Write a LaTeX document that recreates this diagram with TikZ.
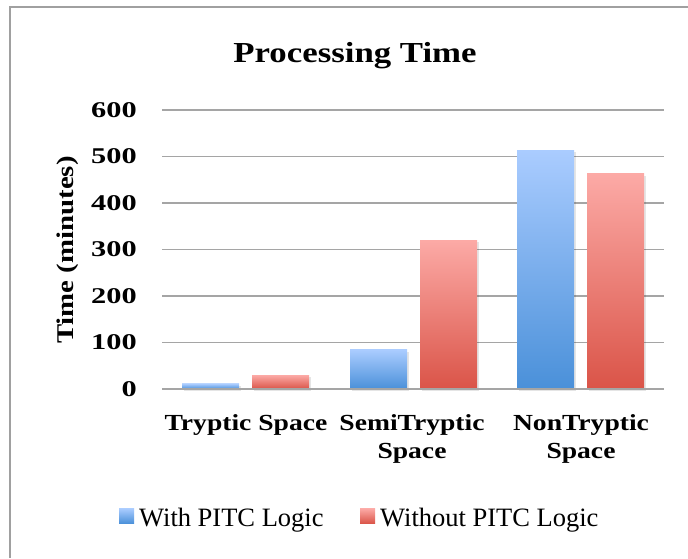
\documentclass[tikz,border=0pt]{standalone}
\usepackage{fontspec}
\setmainfont{Liberation Serif}
\newfontfamily\labfont[FakeStretch=1.2]{Liberation Serif}
\newfontfamily\tickfont[FakeStretch=1.35]{Liberation Serif}
\definecolor{bluetop}{RGB}{170,204,255}
\definecolor{bluebot}{RGB}{74,144,217}
\definecolor{redtop}{RGB}{252,170,166}
\definecolor{redbot}{RGB}{218,84,72}
\definecolor{gridgray}{RGB}{165,165,165}
\definecolor{framegray}{RGB}{160,160,160}
\tikzset{
  gridline/.style={draw=gridgray, line width=1.6pt},
  withbar/.style={top color=bluetop, bottom color=bluebot},
  withoutbar/.style={top color=redtop, bottom color=redbot},
  barshadow/.style={fill=black, opacity=0.10},
  ticklab/.style={font=\tickfont\bfseries\fontsize{22.5}{26}\selectfont, anchor=east, inner sep=0pt},
  catlab/.style={font=\labfont\bfseries\fontsize{23}{27}\selectfont, anchor=base, inner sep=0pt},
  legtext/.style={font=\fontsize{26.5}{30}\selectfont, anchor=base west, inner sep=0pt},
}
\begin{document}
\begin{tikzpicture}[x=1pt,y=-1pt]
\useasboundingbox (0,0) rectangle (688,558);
% frame
\draw[framegray, line width=2pt] (9.5,558) -- (9.5,7) -- (688,7);
% title
\node[font=\labfont\bfseries\fontsize{29}{34}\selectfont, anchor=base, inner sep=0pt] (title) at (355,62) {Processing Time};
% y axis title
\node[font=\labfont\bfseries\fontsize{24}{28}\selectfont, rotate=90, inner sep=0pt] (ytitle) at (68,250) {Time (minutes)};
% gridlines and tick labels
\foreach \v/\n in {0/t0,100/t1,200/t2,300/t3,400/t4,500/t5,600/t6}{
  \coordinate (gl\n) at (162,389-0.465*\v);
  \coordinate (gr\n) at (664,389-0.465*\v);
  \draw[gridline] (gl\n) -- (gr\n);
  \node[ticklab] (\n) at (137,389-0.465*\v) {\v};
}
% bars: left x, value
\foreach \x/\val/\sty in {182/11/withbar, 252/30/withoutbar, 350/84/withbar, 420/320/withoutbar, 517/513/withbar, 587/463/withoutbar}{
  \fill[barshadow] (\x+2,389-0.465*\val+2) rectangle (\x+59,391);
  \shade[\sty] (\x,389-0.465*\val) rectangle (\x+57,389);
}
\draw[gridline] (glt0) -- (grt0);
% category labels
\node[catlab] (catA) at (246,430) {Tryptic Space};
\node[catlab] (catB1) at (412,430) {SemiTryptic};
\node[catlab] (catB2) at (412,458) {Space};
\node[catlab] (catC1) at (581,430) {NonTryptic};
\node[catlab] (catC2) at (581,458) {Space};
% legend
\shade[withbar] (119,508.5) rectangle (134,523.5);
\node[legtext] (legA) at (139,526) {With PITC Logic};
\shade[withoutbar] (360,508.5) rectangle (375,523.5);
\node[legtext] (legB) at (380,526) {Without PITC Logic};
\end{tikzpicture}
\end{document}
